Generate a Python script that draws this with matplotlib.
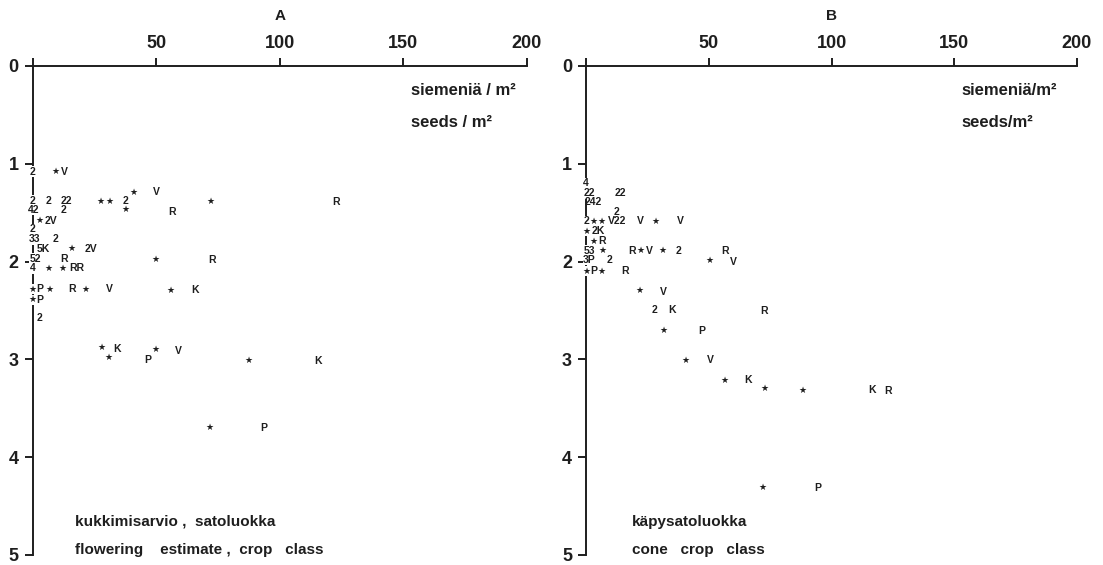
import matplotlib

matplotlib.use('Agg')
import matplotlib.pyplot as plt

plt.rcParams['font.family'] = ['Liberation Sans', 'DejaVu Sans']

# panel A: flowering estimate (crop class) vs seeds/m2
a_lab = ['2', '★', 'V',
         '★', 'V',
         '2', '2', '22', '★', '★', '2', '★', 'R',
         '42', '2', '★', 'R',
         '★', '2V',
         '2',
         '33', '2',
         '5K', '★', '2V',
         '52', 'R', '★', 'R',
         '4', '★', '★', 'RR',
         '★', 'P', '★', 'R', '★', 'V', '★', 'K',
         '★', 'P',
         '2',
         '★', 'K', '★', 'P', '★', 'V', '★', 'K',
         '★', 'P']
a_x = [0, 9.4, 12.7,
       40.8, 50.2,
       0, 6.4, 13.8, 27.6, 31.3, 37.6, 72.1, 122.6,
       0.4, 12.5, 37.6, 56.4,
       3.0, 7.5,
       0,
       0.8, 9.4,
       4.4, 15.9, 23.5,
       1.0, 12.7, 49.7, 72.4,
       0, 6.4, 12.2, 17.7,
       0, 3.0, 6.8, 16.1, 21.6, 31.1, 56.0, 65.7,
       0, 3.0,
       3.0,
       28.1, 34.3, 30.8, 46.8, 49.8, 59.1, 87.4, 115.6,
       71.4, 93.5]
a_y = [1.08, 1.08, 1.08,
       1.29, 1.29,
       1.38, 1.38, 1.38, 1.38, 1.38, 1.38, 1.38, 1.39,
       1.47, 1.47, 1.47, 1.49,
       1.58, 1.58,
       1.67,
       1.77, 1.77,
       1.87, 1.87, 1.87,
       1.97, 1.97, 1.98, 1.98,
       2.07, 2.07, 2.07, 2.07,
       2.28, 2.28, 2.28, 2.28, 2.28, 2.28, 2.29, 2.29,
       2.39, 2.39,
       2.58,
       2.88, 2.89, 2.98, 3.01, 2.90, 2.91, 3.01, 3.02,
       3.70, 3.70]

# panel B: cone crop class vs seeds/m2
b_lab = ['4',
         '22', '22',
         '242',
         '2',
         '2', '★', '★', 'V22', 'V', '★', 'V',
         '★', '2K',
         '★', 'R',
         '53', '★', 'R', '★', 'V', '★', '2', 'R',
         '3P', '2', '★', 'V',
         '★', 'P', '★', 'R',
         '★', 'V',
         '2', 'K', 'R',
         '★', 'P',
         '★', 'V',
         '★', 'K',
         '★', '★', 'K', 'R',
         '★', 'P']
b_x = [0,
       1.4, 14.1,
       3.0,
       12.5,
       0, 3.0, 6.4, 12.5, 22.0, 28.5, 38.3,
       0, 4.9,
       3.0, 6.6,
       1.4, 6.6, 18.6, 22.0, 25.7, 31.2, 37.6, 56.6,
       1.4, 9.5, 50.2, 60.0,
       0, 3.0, 6.4, 15.9,
       21.7, 31.5,
       28.1, 34.9, 72.6,
       31.5, 47.1,
       40.7, 50.5,
       56.6, 65.9,
       72.6, 88.1, 116.4, 122.9,
       72.0, 94.4]
b_y = [1.20,
       1.30, 1.30,
       1.39,
       1.49,
       1.59, 1.59, 1.59, 1.59, 1.59, 1.59, 1.59,
       1.69, 1.69,
       1.79, 1.79,
       1.89, 1.89, 1.89, 1.89, 1.89, 1.89, 1.89, 1.89,
       1.98, 1.98, 1.99, 2.00,
       2.10, 2.10, 2.10, 2.10,
       2.30, 2.31,
       2.50, 2.50, 2.51,
       2.70, 2.71,
       3.01, 3.01,
       3.22, 3.21,
       3.30, 3.32, 3.31, 3.32,
       4.31, 4.32]

x_ticks = [0, 50, 100, 150, 200]
x_ticklabels = ['', '50', '100', '150', '200']
y_ticks = [0, 1, 2, 3, 4, 5]

panels = [
    ('A', [32.5 / 1103, 0.0177, 494.5 / 1103, 0.8655], a_lab, a_x, a_y,
     'siemeniä / m²', 'seeds / m²', 'kukkimisarvio ,  satoluokka',
     'flowering    estimate ,  crop   class', 17.2),
    ('B', [586 / 1103, 0.0177, 491 / 1103, 0.8655], b_lab, b_x, b_y,
     'siemeniä/m²', 'seeds/m²', 'käpysatoluokka',
     'cone   crop   class', 18.7),
]

ink = '#1e1e1e'

fig = plt.figure(figsize=(11.03, 5.65), dpi=100)

for title, pos, lab, xs, ys, unit_fi, unit_en, cap_fi, cap_en, cap_x in panels:
    ax = fig.add_axes(pos)
    ax.set_xlim(0, 200)
    ax.set_ylim(5, 0)
    for s in ['right', 'bottom']:
        ax.spines[s].set_visible(False)
    for s in ['left', 'top']:
        ax.spines[s].set_linewidth(1.4)
        ax.spines[s].set_color(ink)
    ax.xaxis.tick_top()
    ax.set_xticks(x_ticks)
    ax.set_xticklabels(x_ticklabels)
    ax.set_yticks(y_ticks)
    ax.tick_params(axis='both', direction='out', length=6, width=1.4,
                   color=ink, labelsize=13, pad=4)
    for t in ax.get_xticklabels() + ax.get_yticklabels():
        t.set_fontweight('bold')
        t.set_color(ink)
    ax.set_title(title, fontsize=11, fontweight='bold', pad=33, color=ink)

    # the marks; the ones sitting on the axis break the line like in print
    for s, x, y in zip(lab, xs, ys):
        fs = 6.5 if s == '★' else 7.5
        box = None
        if x < 2:
            box = dict(boxstyle='square,pad=0.05', fc='white', ec='none')
        ax.text(x, y, s, ha='center', va='center', fontsize=fs,
                fontweight='bold', color=ink, bbox=box)

    ax.text(153, 0.25, unit_fi, ha='left', va='center', fontsize=12,
            fontweight='bold', color=ink)
    ax.text(153, 0.58, unit_en, ha='left', va='center', fontsize=12,
            fontweight='bold', color=ink)
    ax.text(cap_x, 4.66, cap_fi, ha='left', va='center', fontsize=11,
            fontweight='bold', color=ink)
    ax.text(cap_x, 4.95, cap_en, ha='left', va='center', fontsize=11,
            fontweight='bold', color=ink)

fig.savefig('out.png', dpi=100)
